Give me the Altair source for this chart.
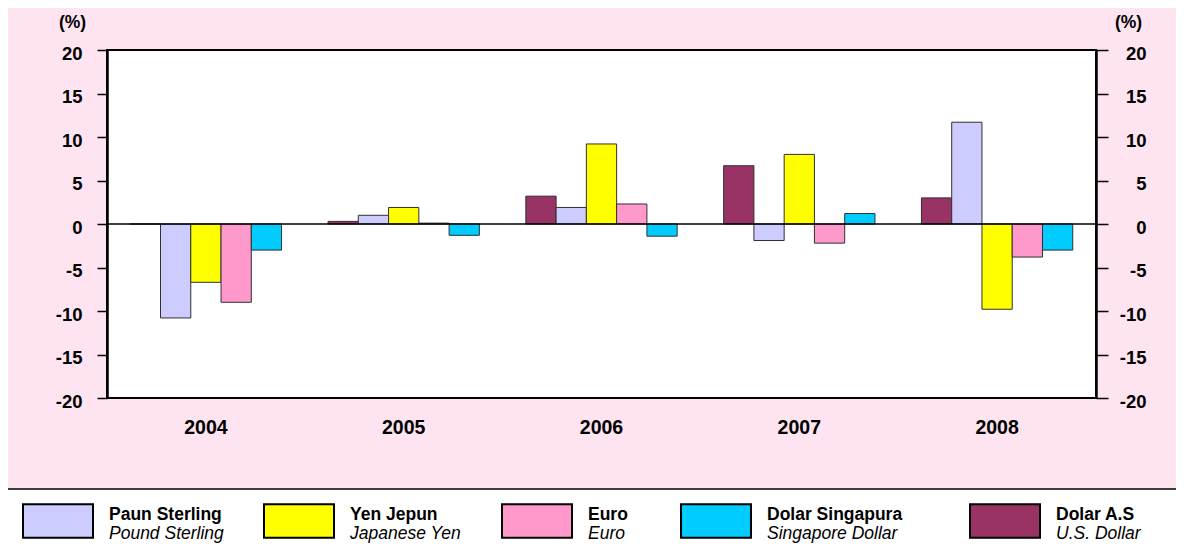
import altair as alt
import pandas as pd

# ---------------- data ----------------
years = ["2004", "2005", "2006", "2007", "2008"]
series_order = ["Dolar A.S", "Paun Sterling", "Yen Jepun", "Euro", "Dolar Singapura"]
usd = [0.0, 0.3, 3.2, 6.7, 3.0]
gbp = [-10.8, 1.0, 1.9, -1.9, 11.7]
jpy = [-6.7, 1.9, 9.2, 8.0, -9.8]
eur = [-9.0, 0.1, 2.3, -2.2, -3.8]
sgd = [-3.0, -1.3, -1.4, 1.2, -3.0]
series_colors = ["#993366", "#CCCCFF", "#FFFF00", "#FF99CC", "#00CCFF"]

legend_my = ["Paun Sterling", "Yen Jepun", "Euro", "Dolar Singapura", "Dolar A.S"]
legend_en = ["Pound Sterling", "Japanese Yen", "Euro", "Singapore Dollar", "U.S. Dollar"]
y_ticks = [-20, -15, -10, -5, 0, 5, 10, 15, 20]

# ---------------- layout ----------------
W, H = 989, 348
PAD_L, PAD_T = 99, 42
CANVAS_W, CANVAS_H = 1168, 541
FONT = "Liberation Sans, Arial, Helvetica, sans-serif"
BG = "#FDE4F0"
LEGEND_SLOTS = [-49, 192, 430, 609, 898]  # pixel centres of legend swatches

values = {"Dolar A.S": usd, "Paun Sterling": gbp, "Yen Jepun": jpy,
          "Euro": eur, "Dolar Singapura": sgd}
rows = []
for s in series_order:
    for y, v in zip(years, values[s]):
        rows.append({"year": y, "series": s, "value": v})
df = pd.DataFrame(rows)

yscale = alt.Scale(domain=[-20, 20], nice=False, zero=False)
cscale = alt.Scale(domain=series_order, range=series_colors)

common_y = dict(
    values=y_ticks, grid=False, title="(%)", titleAngle=0,
    titleY=-28, titleAlign="center", titleBaseline="middle",
    titleFont=FONT, titleFontSize=17.5, titleFontWeight="bold", titleColor="black",
    tickColor="black", tickWidth=1.5, domainColor="black", domainWidth=2.5,
    labelFont=FONT, labelFontSize=18.5, labelFontWeight="bold", labelColor="black",
    labelOffset=3, labelBaseline="middle", labelExpr="toString(datum.value)",
)
left_axis = alt.Axis(orient="left", titleX=-35, tickSize=10, labelPadding=15, **common_y)
right_axis = alt.Axis(orient="right", titleX=32, tickSize=12, labelPadding=38,
                      labelAlign="right", **common_y)

bars = alt.Chart(df).mark_bar(stroke="#303030", strokeWidth=1).encode(
    x=alt.X("year:N", sort=years,
            scale=alt.Scale(paddingInner=0.235, paddingOuter=0.1175),
            axis=alt.Axis(title=None, labelAngle=0, ticks=False, tickSize=0, domain=False,
                          labelFont=FONT, labelFontSize=19.5, labelFontWeight="bold",
                          labelColor="black", labelBaseline="middle", labelPadding=29)),
    xOffset=alt.XOffset("series:N", sort=series_order,
                        scale=alt.Scale(paddingInner=0, paddingOuter=0)),
    y=alt.Y("value:Q", scale=yscale, axis=left_axis),
    color=alt.Color("series:N", scale=cscale, legend=None),
)

zero = alt.Chart(pd.DataFrame({"z": [0]})).mark_rule(color="black", strokeWidth=1.5).encode(
    y=alt.Y("z:Q", scale=yscale, axis=right_axis),
)

box = alt.Chart(pd.DataFrame({"a": [0]})).mark_rect(
    fill="white", stroke="black", strokeWidth=1.5
).encode(x=alt.value(-101), x2=alt.value(1070), y=alt.value(439), y2=alt.value(530))

leg_df = pd.DataFrame({"idx": list(range(5)), "name": legend_my, "en": legend_en})
lx = alt.X("idx:Q", scale=alt.Scale(domain=[0, 1, 2, 3, 4], range=LEGEND_SLOTS,
                                    nice=False, zero=False), axis=None)

swatch = alt.Chart(leg_df).mark_point(
    shape="M-1,-0.48L1,-0.48L1,0.48L-1,0.48Z", size=4900, filled=True,
    stroke="black", strokeWidth=2, opacity=1, strokeOpacity=1,
).encode(x=lx, y=alt.value(471),
         color=alt.Color("name:N", scale=cscale, legend=None))

t1 = alt.Chart(leg_df).mark_text(
    align="left", baseline="alphabetic", dx=51, font=FONT, fontSize=17.5,
    fontWeight="bold", color="black",
).encode(x=lx, y=alt.value(470), text="name:N")

t2 = alt.Chart(leg_df).mark_text(
    align="left", baseline="alphabetic", dx=51, font=FONT, fontSize=17.5,
    fontStyle="italic", color="black",
).encode(x=lx, y=alt.value(489), text="en:N")

chart = alt.layer(bars, zero, box, swatch, t1, t2).resolve_scale(
    x="independent"
).resolve_axis(y="independent").properties(
    width=W, height=H, background=BG,
    padding={"left": PAD_L, "top": PAD_T, "right": CANVAS_W - PAD_L - W,
             "bottom": CANVAS_H - PAD_T - H},
    autosize=alt.AutoSizeParams(type="none"),
).configure_view(stroke="black", strokeWidth=2, fill="white")

chart.save("out.html", embed_options={"renderer": "svg", "actions": False})
